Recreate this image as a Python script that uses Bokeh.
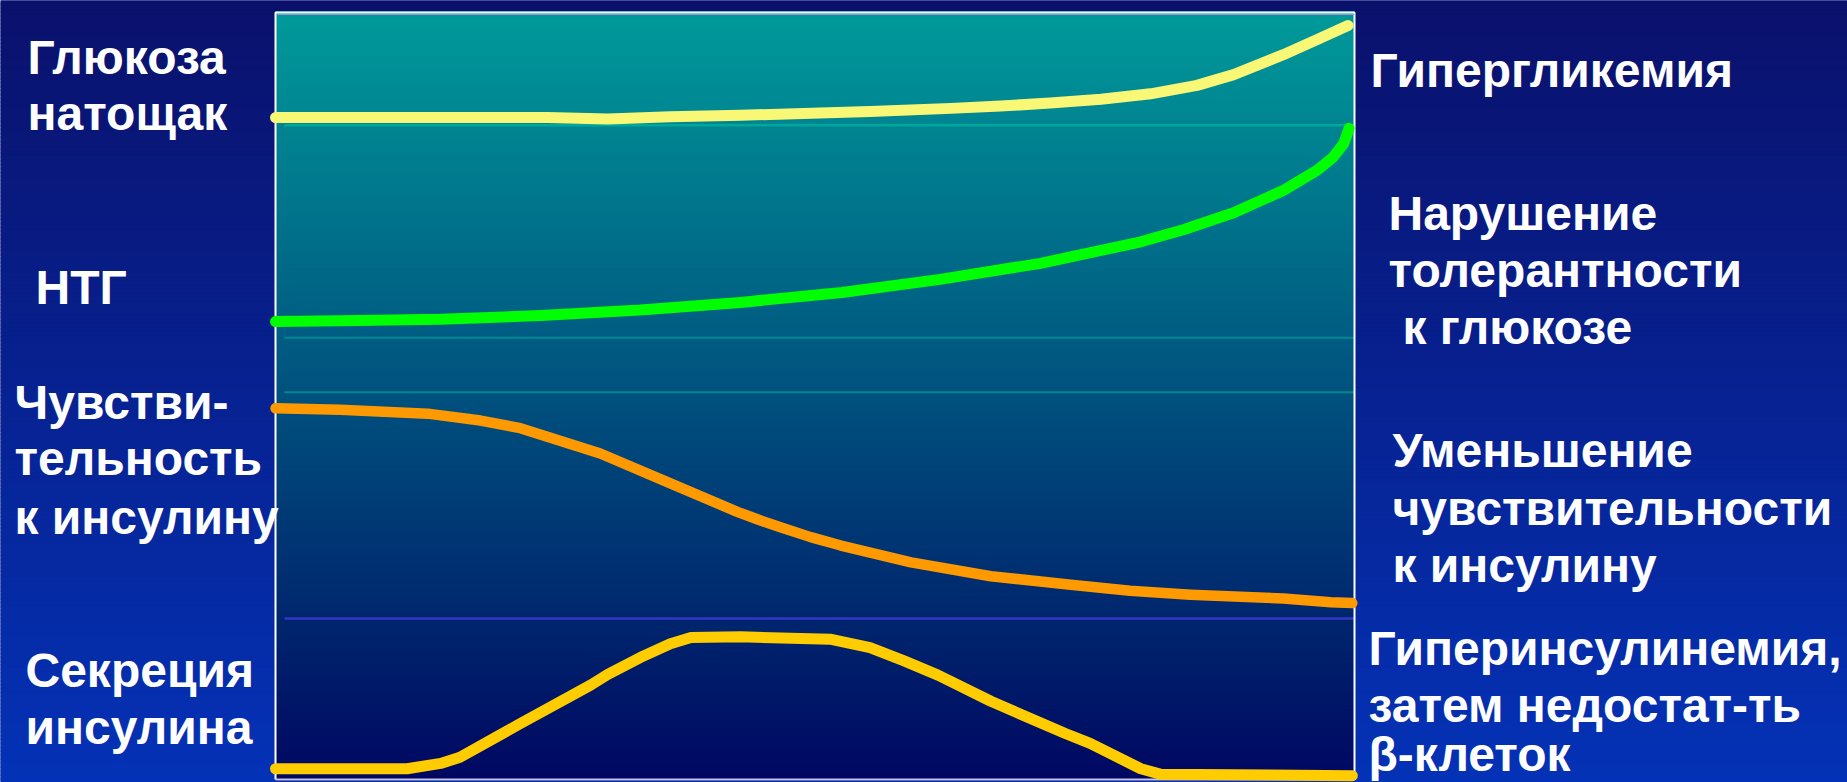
import numpy as np
from bokeh.plotting import figure
from bokeh.models import Range1d
from bokeh.core.properties import value
from bokeh.embed import file_html
from bokeh.resources import INLINE

# Progression of type 2 diabetes: stage (0..100) vs relative level (0..100)
glucose_stage = [0, 15.3, 25.2, 30.8, 36.6, 43.1, 55.1, 62.6, 67.2, 71.8, 76.5, 81.1, 85.4, 88.8, 93.4, 96.6, 99.4]
glucose_level = [86.3, 86.3, 86.3, 86.1, 86.4, 86.6, 87.1, 87.5, 87.8, 88.2, 88.7, 89.4, 90.5, 91.9, 94.5, 96.5, 98.3]

igt_stage = [0, 6.0, 15.3, 24.6, 33.8, 43.1, 52.5, 61.6, 70.9, 80.2, 84.2, 88.8, 93.4, 96.5, 98.0, 99.0, 99.5]
igt_level = [59.7, 59.8, 60.0, 60.5, 61.2, 62.2, 63.5, 65.2, 67.3, 70.1, 71.7, 73.9, 76.8, 79.4, 81.1, 82.9, 84.9]

sens_stage = [0, 6.0, 14.1, 19.0, 22.7, 30.1, 36.6, 42.8, 44.9, 46.8, 49.6, 52.4, 58.9, 66.3, 73.7, 79.2, 84.8, 93.4, 97.8, 99.8]
sens_level = [48.4, 48.2, 47.7, 46.8, 45.8, 42.5, 38.6, 34.9, 33.8, 32.9, 31.6, 30.5, 28.3, 26.5, 25.4, 24.6, 24.1, 23.6, 23.1, 23.0]

secr_stage = [0, 12.2, 15.3, 17.1, 22.7, 29.2, 30.8, 33.8, 36.6, 38.5, 43.1, 51.4, 55.1, 58.2, 61.4, 66.3, 73.2, 75.5, 80.2, 82.0, 99.8]
secr_level = [1.4, 1.4, 2.1, 2.9, 7.3, 12.3, 13.7, 15.9, 17.7, 18.5, 18.6, 18.3, 17.2, 15.5, 13.6, 10.2, 6.0, 4.7, 1.4, 0.7, 0.5]

# Reference levels drawn across the panel
ref_levels = [85.3, 57.6, 50.5, 21.0]
ref_colors = ["#00a89c", "#008a90", "#008a90", "#3434c8"]
ref_widths = [2.5, 2, 2, 2.5]

left_labels = ["Глюкоза", "натощак", "НТГ", "Чувстви-", "тельность", "к инсулину", "Секреция", "инсулина"]
right_labels = ["Гипергликемия", "Нарушение", "толерантности", "к глюкозе",
                "Уменьшение", "чувствительности", "к инсулину",
                "Гиперинсулинемия,", "затем недостат-ть", "β-клеток"]

# ---- page geometry (pixels) ----
W, H = 1847, 782
BOX_L, BOX_R, BOX_T, BOX_B = 275, 1354, 12, 779
sx = (BOX_R - BOX_L) / 100.0
sy = (BOX_B - BOX_T) / 100.0
TEXT_LIFT = 15


def tx(px):
    return (px - BOX_L) / sx


def ly(py):
    return (BOX_B - py) / sy


p = figure(width=W, height=H, output_backend="svg", toolbar_location=None,
           x_range=Range1d(tx(0), tx(W)), y_range=Range1d(ly(H), ly(0)),
           x_axis_type=None, y_axis_type=None, min_border=0)
p.outline_line_color = None
p.background_fill_color = "#081c8c"
p.border_fill_color = "#081c8c"


def gradient(y0, y1, x0, x1, c_top, c_bot, n):
    ys = np.linspace(y0, y1, n + 1)
    fr = np.linspace(0, 1, n)
    cols = []
    for f in fr:
        r, g, b = [int(round(a + (c - a) * f)) for a, c in zip(c_top, c_bot)]
        cols.append("#%02x%02x%02x" % (r, g, b))
    step = abs(ys[1] - ys[0])
    p.quad(left=[x0] * n, right=[x1] * n,
           top=list(ys[:-1] + step * 0.35), bottom=list(ys[1:] - step * 0.35),
           fill_color=cols, line_color=None)


# slide background
gradient(ly(0), ly(H), tx(0), tx(W), (10, 17, 108), (4, 50, 182), 200)
# panel background
gradient(ly(BOX_T), ly(BOX_B), tx(BOX_L), tx(BOX_R), (0, 154, 154), (0, 8, 98), 200)

# reference lines
for lv, c, w in zip(ref_levels, ref_colors, ref_widths):
    p.line([tx(284), tx(BOX_R)], [lv, lv], line_color=c, line_width=w)

# panel frame
p.line([tx(BOX_L), tx(BOX_L), tx(BOX_R), tx(BOX_R)],
       [ly(BOX_B), ly(BOX_T), ly(BOX_T), ly(BOX_B)], line_color="white", line_width=2)
p.line([tx(BOX_L), tx(BOX_R)], [ly(BOX_B), ly(BOX_B)], line_color="#c4c4ec", line_width=2)
p.line([tx(BOX_L + 2), tx(BOX_R)], [ly(BOX_T + 2), ly(BOX_T + 2)], line_color="#9a9ad8", line_width=1)

# curves
curves = [
    (glucose_stage, glucose_level, "#f9f876", 11),
    (igt_stage, igt_level, "#00ff00", 11),
    (sens_stage, sens_level, "#ff9900", 10.5),
    (secr_stage, secr_level, "#ffcc00", 11),
]
for xs, ys, c, w in curves:
    p.line(xs, ys, line_color=c, line_width=w, line_cap="round", line_join="round")

FONT = value("Liberation Sans")
SIZE = value("48px")

left_pos = [(27, 72), (27, 128), (35, 302), (14, 417), (14, 473), (14, 532), (25, 685), (25, 742)]
right_pos = [(1370, 85), (1388, 228), (1388, 285), (1402, 342),
             (1392, 465), (1392, 523), (1392, 580),
             (1368, 663), (1368, 720), (1368, 769)]

for labels, pos in ((left_labels, left_pos), (right_labels, right_pos)):
    p.text(x=[tx(a) for a, _ in pos], y=[ly(b - TEXT_LIFT) for _, b in pos], text=labels,
           text_font=FONT, text_font_style="bold", text_font_size=SIZE,
           text_color="white", text_align="left", text_baseline="alphabetic")

open("out.html", "w").write(file_html(p, INLINE))
